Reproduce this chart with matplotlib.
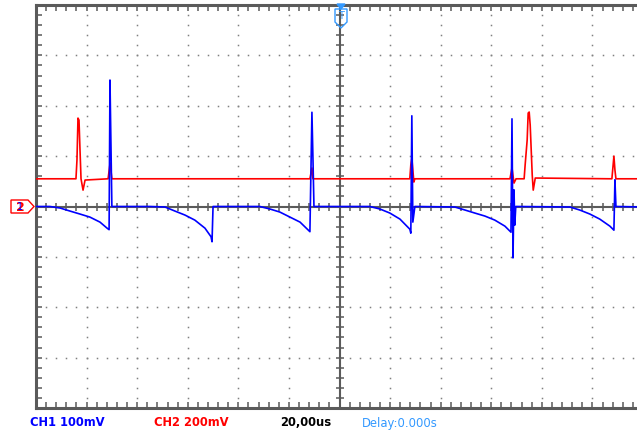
import numpy as np
import matplotlib.pyplot as plt
from matplotlib.patches import Polygon

# Scope settings
time_per_div = 20.0      # us / div
ch1_per_div = 100.0      # mV / div
ch2_per_div = 200.0      # mV / div
n_xdiv = 12
n_ydiv = 8

# CH1 (blue) trace keypoints: time in us, voltage in mV
ch1_t = [0, 5.5, 9.5, 13.4, 17.4, 21.3, 25.3, 28.1, 28.9, 29.25, 29.65, 30.0,
         45.1, 51.0, 54.9, 58.9, 62.8, 66.8, 69.2, 69.6, 70.0,
         88.5, 92.5, 96.4, 100.4, 104.4, 108.3, 109.1, 109.5, 109.9,
         132.0, 136.0, 139.9, 143.9, 147.8, 148.2, 148.6, 149.0, 149.8,
         165.6, 169.6, 173.5, 177.5, 181.4, 185.4, 187.8, 188.2, 188.6, 189.0, 189.3, 189.7,
         211.1, 215.0, 219.0, 222.9, 226.9, 228.5, 228.9, 229.3, 240]
ch1_mv = [0, 0, -3, -9, -15, -21, -31, -43, -46, 251, 118, 0,
          0, -1, -9, -17, -27, -43, -60, -70, 0,
          0, -5, -11, -21, -31, -50, 187, 96, 0,
          0, -5, -13, -25, -45, -53, 180, -31, 0,
          -1, -7, -13, -19, -27, -39, -51, 174, -102, 33, -37, 0,
          -1, -7, -15, -25, -39, -47, 53, 0, -1]

# CH2 (red) trace keypoints: time in us, voltage in mV
ch2_t = [0, 15.8, 16.2, 16.6, 17.0, 17.4, 17.8, 18.6, 19.4, 28.5, 29.3, 29.6, 30.0,
         108.3, 109.1, 109.5, 147.8, 148.2, 148.6, 149.0, 149.4, 149.8,
         187.4, 188.2, 189.0, 189.8, 193.0, 193.4, 194.2, 194.6, 195.0, 195.4, 195.8, 196.2, 196.6, 197.4,
         227.7, 228.5, 228.9, 229.3, 240]
ch2_mv = [110, 110, 185, 351, 343, 224, 110, 65, 105, 110, 173, 145, 110,
          110, 153, 110, 110, 165, 192, 145, 97, 110,
          110, 153, 93, 110, 110, 165, 264, 371, 375, 323, 224, 125, 65, 113,
          110, 200, 145, 110, 110]

# Bottom status line
labels = ["CH1 100mV", "CH2 200mV", "20,00us", "Delay:0.000s"]
label_colors = ["#0000ff", "#ff0000", "#000000", "#3399ff"]
label_x = [30, 154, 280, 362]

W, H = 637, 441
gray = "#5a5a5a"
dot_gray = "#808080"

fig = plt.figure(figsize=(W / 100, H / 100), dpi=100)
fig.patch.set_facecolor("white")


def px(x, y):
    return x / W, 1 - y / H


ax = fig.add_axes([36 / W, (H - 408) / H, 607 / W, 403 / H])
ax.set_xlim(0, n_xdiv * time_per_div)
ax.set_ylim(-n_ydiv / 2, n_ydiv / 2)
ax.set_facecolor("white")

# frame
for side in ["left", "top", "bottom"]:
    ax.spines[side].set_linewidth(2.2)
    ax.spines[side].set_color(gray)
ax.spines["right"].set_visible(False)
ax.set_xticks(np.arange(0, n_xdiv * time_per_div + 0.1, time_per_div / 5))
ax.set_yticks(np.arange(-n_ydiv / 2, n_ydiv / 2 + 0.01, 0.2))
ax.tick_params(direction="in", length=4, width=1.1, color=gray,
               top=True, bottom=True, left=True, right=False,
               labelbottom=False, labelleft=False)

# dotted grid
fine_x = np.arange(0, n_xdiv * time_per_div + 0.1, time_per_div / 5)
fine_y = np.arange(-n_ydiv / 2, n_ydiv / 2 + 0.01, 0.2)
for k in range(1, n_xdiv):
    if k == n_xdiv // 2:
        continue
    ax.plot(np.full_like(fine_y, k * time_per_div), fine_y, ls="none",
            marker="s", ms=1.1, mew=0, color=dot_gray)
for k in range(-n_ydiv // 2 + 1, n_ydiv // 2):
    if k == 0:
        continue
    ax.plot(fine_x, np.full_like(fine_x, k), ls="none",
            marker="s", ms=1.1, mew=0, color=dot_gray)

# center cross with ticks
xc = n_xdiv / 2 * time_per_div
ax.axvline(xc, color=gray, lw=1.5, zorder=1)
ax.axhline(0, color=gray, lw=1.5, zorder=1)
ax.plot(np.full_like(fine_y, xc), fine_y, ls="none", marker="_", ms=6, mew=1.1, color=gray)
ax.plot(fine_x, np.zeros_like(fine_x), ls="none", marker="|", ms=6, mew=1.1, color=gray)

# traces
ax.plot(ch2_t, np.array(ch2_mv) / ch2_per_div, color="#ff0000", lw=1.2, zorder=3)
ax.plot(ch1_t, np.array(ch1_mv) / ch1_per_div, color="#0000ff", lw=1.2, zorder=4)

# left channel marker
pts = [px(11, 200), px(28, 200), px(34, 206.5), px(28, 213), px(11, 213)]
fig.patches.append(Polygon(pts, closed=True, fill=False, edgecolor="#ff0000",
                           lw=1.0, transform=fig.transFigure))
fig.text(*px(20, 207), "2", color="#ff0000", fontsize=9, ha="center", va="center",
         fontweight="bold")
fig.text(*px(20, 207), "1", color="#0000ff", fontsize=7, ha="center", va="center")

# top trigger marker
tpts = [px(335, 9), px(347, 9), px(347, 22), px(341, 28), px(335, 22)]
fig.patches.append(Polygon(tpts, closed=True, fill=False, edgecolor="#3399ff",
                           lw=1.0, transform=fig.transFigure))
fig.patches.append(Polygon([px(337, 4), px(345, 4), px(341, 9)], closed=True,
                           color="#3399ff", transform=fig.transFigure))
fig.text(*px(341, 16), "T", color="#3399ff", fontsize=7, ha="center", va="center")

# status line
for txt, c, x in zip(labels, label_colors, label_x):
    bold = "bold" if not txt.startswith("Delay") else "normal"
    fig.text(*px(x, 423), txt, color=c, fontsize=9.3, fontweight=bold,
             fontstretch="condensed", ha="left", va="center", family="DejaVu Sans")

fig.savefig("out.png", dpi=100)
